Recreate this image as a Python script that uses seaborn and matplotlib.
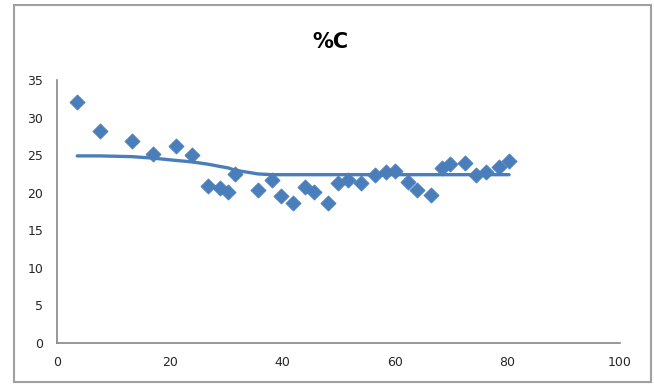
import matplotlib
matplotlib.use("Agg")
import matplotlib.pyplot as plt
import seaborn as sns
import pandas as pd
from matplotlib.patches import Rectangle

# data
depth = [3.6, 7.6, 13.3, 17.1, 21.1, 24.0, 26.8, 28.9, 30.4, 31.6, 35.7, 38.2,
         39.8, 41.9, 44.0, 45.6, 48.1, 49.9, 51.7, 54.0, 56.5, 58.4, 60.0, 62.3,
         63.9, 66.4, 68.4, 69.8, 72.5, 74.4, 76.2, 78.5, 80.3]
pct_c = [32.1, 28.2, 26.9, 25.2, 26.2, 25.0, 20.9, 20.6, 20.1, 22.5, 20.4, 21.7,
         19.6, 18.6, 20.8, 20.1, 18.6, 21.3, 21.7, 21.3, 22.4, 22.8, 22.9, 21.4,
         20.4, 19.7, 23.3, 23.8, 24.0, 22.4, 22.8, 23.4, 24.2]
trend = [24.9, 24.9, 24.8, 24.6, 24.3, 24.1, 23.8, 23.5, 23.3, 23.0, 22.5, 22.4,
         22.4, 22.4, 22.4, 22.4, 22.4, 22.4, 22.4, 22.4, 22.4, 22.4, 22.4, 22.4,
         22.4, 22.4, 22.4, 22.4, 22.4, 22.4, 22.4, 22.4, 22.4]
title = "%C"
xticks = [0, 20, 40, 60, 80, 100]
yticks = [0, 5, 10, 15, 20, 25, 30, 35]

df = pd.DataFrame({"depth": depth, "pct_c": pct_c, "trend": trend})

sns.set_style("white")
plt.rcParams["font.family"] = ["DejaVu Sans"]

W, H = 654, 387
fig = plt.figure(figsize=(W / 100, H / 100), dpi=100)
ax = fig.add_axes([57 / W, 1 - 343 / H, (620 - 57) / W, (343 - 80) / H])

blue = "#4A7EBB"
sns.lineplot(data=df, x="depth", y="trend", ax=ax, color=blue, linewidth=2.4,
             zorder=2, estimator=None, sort=True)
sns.scatterplot(data=df, x="depth", y="pct_c", ax=ax, marker="D", s=60,
                color=blue, edgecolor=blue, linewidth=0.5, zorder=3)

ax.set_xlim(0, 100)
ax.set_ylim(0, 35)
ax.set_xticks(xticks)
ax.set_yticks(yticks)
ax.set_xlabel("")
ax.set_ylabel("")
for s in ["top", "right"]:
    ax.spines[s].set_visible(False)
for s in ["left", "bottom"]:
    ax.spines[s].set_color("#868686")
    ax.spines[s].set_linewidth(1.2)
ax.tick_params(axis="both", direction="out", length=4, width=1.0,
               color="#868686", labelsize=9, labelcolor="#262626")
ax.tick_params(axis="x", pad=5)
ax.tick_params(axis="y", pad=6)

fig.text(330 / W, 1 - 42 / H, title, ha="center", va="center",
         fontsize=15, fontweight="bold", color="black")

fig.patches.append(Rectangle((14 / W, 1 - 382 / H), (651 - 14) / W, (382 - 5) / H,
                             transform=fig.transFigure, fill=False,
                             edgecolor="#A0A0A0", linewidth=1.5))

fig.savefig("out.png", dpi=100)
